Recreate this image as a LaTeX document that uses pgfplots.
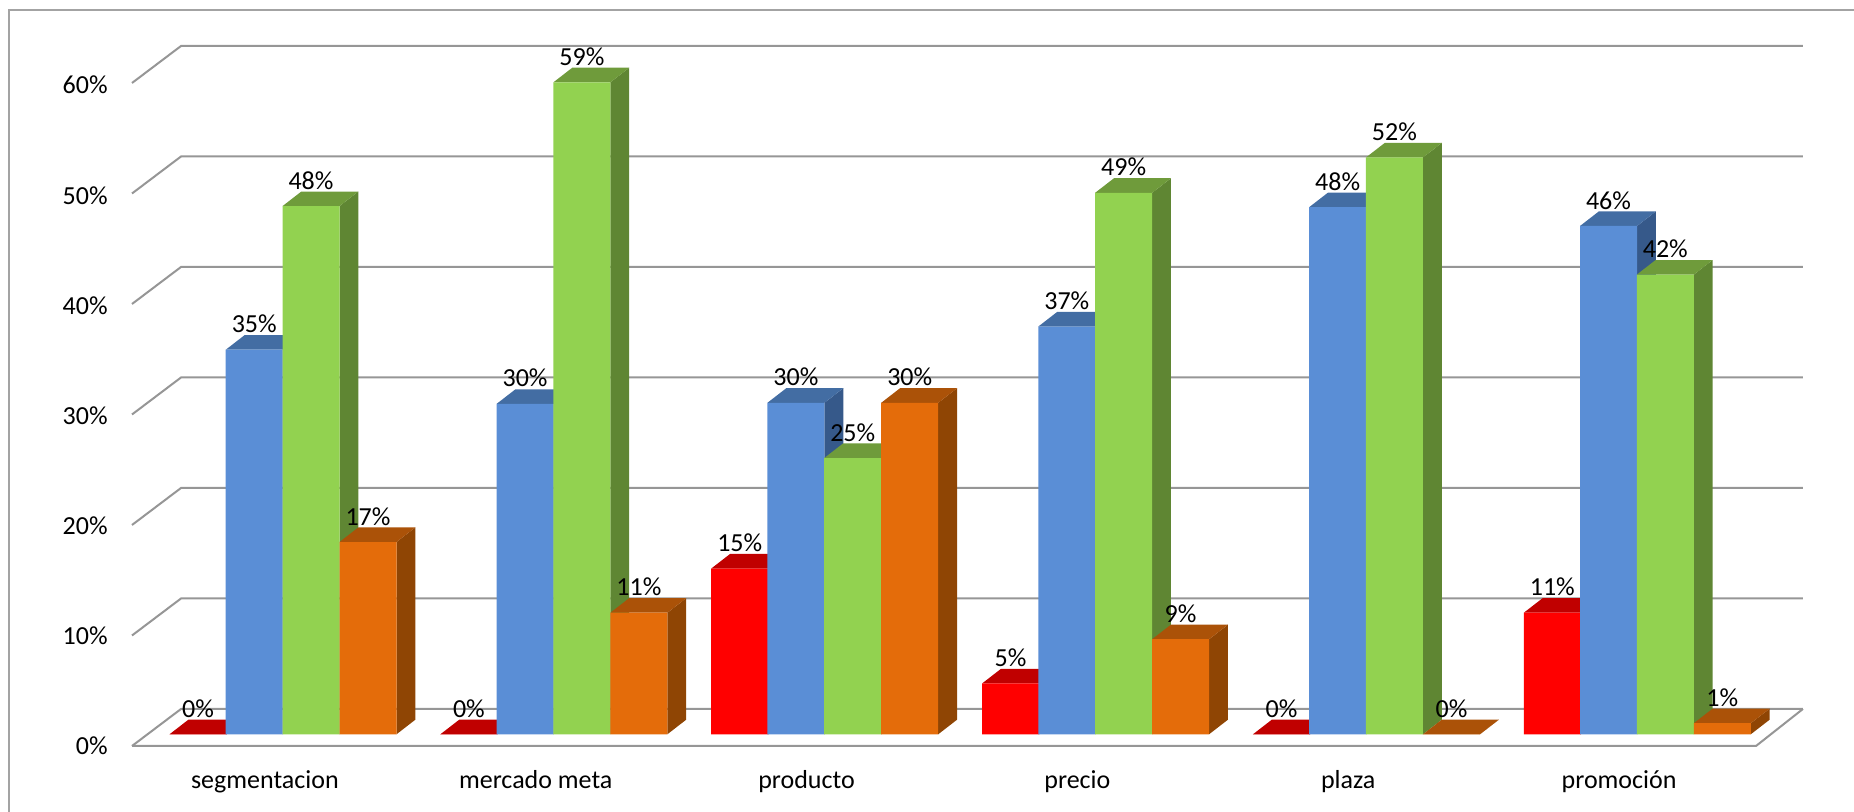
\documentclass[border=0pt]{standalone}
\usepackage{pgfplots}
\pgfplotsset{compat=1.18}
\usepackage{pgfplotstable}
\usepackage{fontspec}
\setmainfont{Carlito}

\definecolor{redF}{HTML}{FF0000}\definecolor{redT}{HTML}{C00000}\definecolor{redS}{HTML}{A00000}
\definecolor{bluF}{HTML}{5A8ED6}\definecolor{bluT}{HTML}{436DA3}\definecolor{bluS}{HTML}{36598A}
\definecolor{greF}{HTML}{92D250}\definecolor{greT}{HTML}{6F9B3B}\definecolor{greS}{HTML}{5F8633}
\definecolor{oraF}{HTML}{E46C0A}\definecolor{oraT}{HTML}{AB5208}\definecolor{oraS}{HTML}{8F4504}
\definecolor{wallgray}{HTML}{969696}
\definecolor{framegray}{HTML}{A3A3A3}

% Percentages per category, one column per series
\pgfplotstableread{
cat red  blue green orange
0   0    34.8 47.8  17.4
1   0    29.9 59.0  11.0
2   15.0 30.0 25.0  30.0
3   4.6  36.9 49.0  8.6
4   0    47.7 52.2  0
5   11.0 46.0 41.6  1.0
}\surveydata

% Oblique depth of each bar, in axis units
\newcommand\depthx{0.0695}
\newcommand\depthy{1.32}
\newcommand\halfbar{0.1052}

% Top and side faces of one series: column, x shift, top colour, side colour
\newcommand\depthfaces[4]{%
  \pgfplotsinvokeforeach{0,...,5}{%
    \pgfplotstablegetelem{##1}{#1}\of\surveydata
    \pgfmathsetmacro\barv{\pgfplotsretval}
    \pgfmathsetmacro\barl{##1+#2-\halfbar}
    \pgfmathsetmacro\barr{##1+#2+\halfbar}
    \pgfmathsetmacro\barlb{\barl+\depthx}
    \pgfmathsetmacro\barrb{\barr+\depthx}
    \pgfmathsetmacro\barvb{\barv+\depthy}
    \addplot[fill=#4, draw=none, forget plot] coordinates
      {(\barr,0) (\barr,\barv) (\barrb,\barvb) (\barrb,\depthy)} --cycle;
    \addplot[fill=#3, draw=none, forget plot] coordinates
      {(\barl,\barv) (\barr,\barv) (\barrb,\barvb) (\barlb,\barvb)} --cycle;
  }%
}

% One gridline on the back wall with its slanted side-wall segment
\newcommand\wallline[1]{%
  \pgfmathsetmacro\wy{#1-1.06}
  \pgfmathsetmacro\wyb{#1+2.29}
  \addplot[wallgray, line width=1pt, forget plot] coordinates
    {(-0.5,\wy) (-0.319,\wyb) (5.669,\wyb)};
}

\begin{document}
\begin{tikzpicture}[x=1pt,y=1pt]
\path[use as bounding box] (0,0) rectangle (927,406);
\begin{axis}[
  at={(66pt,33pt)}, anchor=south west,
  scale only axis, width=812pt, height=331.5pt,
  xmin=-0.5, xmax=5.4958, ymin=-1.06, ymax=58.94,
  clip=false,
  axis line style={draw=none},
  major tick length=0pt,
  xtick pos=bottom, ytick pos=left,
  xtick={0,1,2,3,4,5},
  xticklabels={segmentacion,mercado meta,producto,precio,plaza,promoción},
  ytick={-1.06,8.91,18.88,28.85,38.82,48.79,58.76},
  yticklabels={0\%,10\%,20\%,30\%,40\%,50\%,60\%},
  xticklabel style={anchor=base, inner sep=0pt, yshift=-21.5pt, xshift=-1.3pt},
  yticklabel style={anchor=base east, inner sep=0pt, xshift=-12pt, yshift=-4.5pt},
  tick label style={font=\fontsize{13}{15}\selectfont},
  /pgf/number format/assume math mode=true,
  nodes near coords style={font=\fontsize{13}{15}\selectfont, anchor=base, inner sep=0pt, yshift=8.45pt, text=black},
]
% Outer frame of the chart area
\addplot[framegray, line width=1pt, forget plot] coordinates {(-0.9523,-7.03) (-0.9523,65.58) (5.858,65.58)};

% Walls and floor
\wallline{0}\wallline{10}\wallline{20}\wallline{30}\wallline{40}\wallline{50}\wallline{60}
\addplot[wallgray, line width=1pt, forget plot] coordinates {(-0.5,-1.06) (5.4958,-1.06) (5.669,2.29)};

% Series are painted left to right so nearer faces cover earlier ones
\depthfaces{red}{-0.2562}{redT}{redS}
\addplot[ybar, bar width=28.5pt, bar shift=-34.7pt, fill=redF, draw=none] table[x=cat,y=red] {\surveydata};
\depthfaces{blue}{-0.0487}{bluT}{bluS}
\addplot[ybar, bar width=28.5pt, bar shift=-6.6pt, fill=bluF, draw=none] table[x=cat,y=blue] {\surveydata};
\depthfaces{green}{0.1610}{greT}{greS}
\addplot[ybar, bar width=28.5pt, bar shift=21.8pt, fill=greF, draw=none] table[x=cat,y=green] {\surveydata};
\depthfaces{orange}{0.3714}{oraT}{oraS}
\addplot[ybar, bar width=28.5pt, bar shift=50.3pt, fill=oraF, draw=none] table[x=cat,y=orange] {\surveydata};

% Value labels go last so that no face covers them
\pgfplotsset{valuelabels/.style={draw=none, mark=none, forget plot,
  nodes near coords={\pgfmathprintnumber[fixed,precision=0]{\pgfplotspointmeta}\%}}}
\addplot[valuelabels] table[x expr=\thisrow{cat}-0.2562,y=red] {\surveydata};
\addplot[valuelabels] table[x expr=\thisrow{cat}-0.0487,y=blue] {\surveydata};
\addplot[valuelabels] table[x expr=\thisrow{cat}+0.1610,y=green] {\surveydata};
\addplot[valuelabels] table[x expr=\thisrow{cat}+0.3714,y=orange] {\surveydata};
\end{axis}
\end{tikzpicture}
\end{document}
